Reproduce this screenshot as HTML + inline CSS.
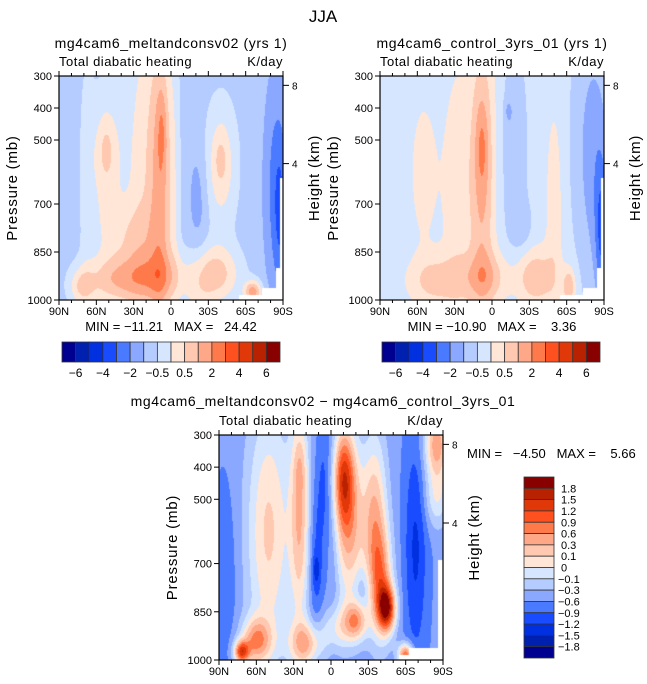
<!DOCTYPE html>
<html><head><meta charset="utf-8">
<style>
body{margin:0;background:#fff;}
#root{position:relative;width:647px;height:684px;overflow:hidden;font-family:"Liberation Sans",sans-serif;}
canvas{position:absolute;}
svg{position:absolute;left:0;top:0;}
text{font-family:"Liberation Sans",sans-serif;fill:#000;white-space:pre;}
</style></head>
<body>
<div id="root">
<canvas id="c1" width="224" height="224" style="left:59px;top:76px"></canvas>
<canvas id="c2" width="224" height="224" style="left:380px;top:76px"></canvas>
<canvas id="c3" width="224" height="225" style="left:219px;top:435px"></canvas>
<svg id="ov" width="647" height="684">
<text x="323" y="22" font-size="17" text-anchor="middle">JJA</text>
</svg>
</div>
<script>
// ---- data ----
const colors=["#000090","#0020b0","#0030e0","#1a4cff","#4a7aff","#8aa8ff","#b4ccff","#d6e6ff","#ffe6d6","#ffc8b0","#ffa888","#ff7a4a","#ff5020","#e03808","#b82200","#880000"];
const topLabels=["-6","-4","-2","-0.5","0.5","2","4","6"];
const diffLabels=["1.8","1.5","1.2","0.9","0.6","0.3","0.1","0","-0.1","-0.3","-0.6","-0.9","-1.2","-1.5","-1.8"];
const latTicks=["90N","60N","30N","0","30S","60S","90S"];
const presTicks=[300,400,500,700,850,1000];
const heightTicks=[8,4];
// panel 1 blobs (lat, pressure, lat width, pressure width, amplitude in colour steps)
const p1Bg=-1.5;
const p1Lat=[68,52,52,22,8,7,-3,-22,-40,-40,-85,-88,45,10,-35,-66,72,35,-22];
const p1Pres=[550,560,530,600,620,470,600,680,580,560,650,750,940,930,920,975,960,800,1000];
const p1WLat=[6,13,5,15,9,4,5,8,13,5,10,5,25,25,20,7,10,25,12];
const p1WPres=[400,220,70,600,500,130,500,180,200,70,350,220,80,80,90,35,60,110,60];
const p1Amp=[0.7,2.2,0.8,2.0,3.2,1.2,0.8,-1.0,2.2,0.8,-2.0,-1.2,2.9,2.1,3.0,4.0,2.0,1.5,0.8];
// panel 2
const p2Bg=-0.6;
const p2Lat=[8,8,28,55,-18,-25,-13,-50,-85,-88,45,5,-35,-62,-75];
const p2Pres=[600,520,650,600,550,770,410,700,600,800,940,930,930,960,500];
const p2WLat=[10,5,12,12,10,7,3,7,12,5,22,20,16,5,14];
const p2WPres=[450,130,400,260,350,70,35,320,400,220,80,80,90,60,400];
const p2Amp=[2.8,1.2,1.2,1.0,-1.2,-0.8,-1.0,1.2,-1.5,-2.5,2.0,2.0,2.4,2.5,-0.9];
// panel 3 (difference)
const p3Bg=-2.8;
const p3Lat=[85,50,25,25,12,12,5,-10,-15,-35,-45,-40,60,72,20,-20,-60,-25,-68,-85,-85,-2,-5];
const p3Pres=[750,600,550,400,700,720,450,430,600,550,840,760,940,975,950,880,985,780,650,330,500,550,900];
const p3WLat=[10,18,8,5,6,3,6,9,12,10,7,9,12,6,14,9,6,7,9,10,10,5,12];
const p3WPres=[300,400,350,90,250,50,200,160,260,260,70,170,70,35,70,60,35,70,350,110,90,400,70];
const p3Amp=[-1.0,4.0,4.5,1.0,-1.6,-1.5,-1.6,6.5,4.5,4.5,8.0,5.0,5.0,7.0,4.5,4.5,7.0,-1.2,-2.4,5.5,2.5,-0.8,2.5];
// ---- axes functions ----
const W=224;
function xOf(lat){return (90-lat)/180*W;}
function latOf(px){return 90-px/W*180;}
function presOf(py,h){return 300+py/h*700;}
function yOf(p,h){return (p-300)/700*h;}
function field(lat,p,bg,L,P,WL,WP,A){
  let v=bg;
  for(let i=0;i<L.length;i++){const a=(lat-L[i])/WL[i],b=(p-P[i])/WP[i];v+=A[i]*Math.exp(-(a*a+b*b));}
  return v;
}
function masked(lat,p,k){
  if(k===3){return (lat<-55&&p>985)||(lat<-63&&p>962)||(lat<-86&&p>690);}
  return (lat<-55&&p>985)||(lat<-73&&p>962)||(lat<-84&&p>900)||(lat<-87.5&&p>620);
}
function draw(id,k,bg,L,P,WL,WP,A){
  const c=document.getElementById(id),ctx=c.getContext('2d'),h=c.height;
  for(let y=0;y<h;y++)for(let x=0;x<W;x++){
    const lat=latOf(x+0.5),p=presOf(y+0.5,h);
    if(masked(lat,p,k)){ctx.fillStyle='#fff';}
    else{let v=field(lat,p,bg,L,P,WL,WP,A);let i=Math.floor(v)+8;i=Math.max(0,Math.min(15,i));ctx.fillStyle=colors[i];}
    ctx.fillRect(x,y,1,1);
  }
}
draw('c1',1,p1Bg,p1Lat,p1Pres,p1WLat,p1WPres,p1Amp);
draw('c2',2,p2Bg,p2Lat,p2Pres,p2WLat,p2WPres,p2Amp);
draw('c3',3,p3Bg,p3Lat,p3Pres,p3WLat,p3WPres,p3Amp);
// ---- overlay ----
const NS='http://www.w3.org/2000/svg',ov=document.getElementById('ov');
function el(tag,attrs,txt){const e=document.createElementNS(NS,tag);for(const k in attrs)e.setAttribute(k,attrs[k]);if(txt!==undefined)e.textContent=txt;ov.appendChild(e);return e;}
function panel(x0,y0,h,title,tx,ty,minmax,mmx,mmy,mmAnchor,name){
  let e;
  e=el('text',{x:tx,y:ty,'font-size':14,'text-anchor':'middle','letter-spacing':0.6},title);
  
  
  e=el('text',{x:x0,y:y0-10,'font-size':13,'letter-spacing':0.5},'Total diabatic heating');
  
  
  e=el('text',{x:x0+W,y:y0-10,'font-size':13,'text-anchor':'end','letter-spacing':0.5},'K/day');
  
  
  e=el('rect',{x:x0,y:y0,width:W,height:h,fill:'none',stroke:'#000','stroke-width':1.2});
  
  
  for(let lat=90;lat>=-90;lat-=10){
    const x=x0+xOf(lat),major=lat%30===0,len=major?5:3;
    e=el('line',{x1:x,x2:x,y1:y0,y2:y0-len,stroke:'#000'});
    
    
    e=el('line',{x1:x,x2:x,y1:y0+h,y2:y0+h+len,stroke:'#000'});
    
    
  }
  latTicks.forEach((t,i)=>{
    e=el('text',{x:x0+i*W/6,y:y0+h+15,'font-size':11,'text-anchor':'middle'},t);
    
    
  });
  presTicks.forEach(p=>{
    const y=y0+yOf(p,h);
    e=el('line',{x1:x0,x2:x0-5,y1:y,y2:y,stroke:'#000'});
    
    
    e=el('text',{x:x0-7,y:y+4,'font-size':11,'text-anchor':'end'},String(p));
    
    
  });
  heightTicks.forEach(z=>{
    const p=1000*Math.exp(-z/7.2),y=y0+yOf(p,h);
    e=el('line',{x1:x0+W,x2:x0+W+6,y1:y,y2:y,stroke:'#000'});
    
    
    e=el('text',{x:x0+W+9,y:y+4,'font-size':10},String(z));
    
    
  });
  e=el('text',{x:0,y:0,'font-size':15,'text-anchor':'middle','letter-spacing':0.8,transform:`translate(${x0-42},${y0+h/2}) rotate(-90)`},'Pressure (mb)');
  
  
  e=el('text',{x:0,y:0,'font-size':15,'text-anchor':'middle','letter-spacing':0.8,transform:`translate(${x0+W+36},${y0+h/2-10}) rotate(-90)`},'Height (km)');
  
  
  e=el('text',{x:mmx,y:mmy,'font-size':13,'text-anchor':mmAnchor},minmax);
  
  
}
panel(59,76,224,'mg4cam6_meltandconsv02 (yrs 1)',171,48,'MIN = \u221211.21   MAX =   24.42',171,331,'middle','panel-1');
panel(380,76,224,'mg4cam6_control_3yrs_01 (yrs 1)',492,48,'MIN = \u221210.90   MAX =    3.36',492,331,'middle','panel-2');
panel(219,435,225,'mg4cam6_meltandconsv02 \u2212 mg4cam6_control_3yrs_01',323,406,'MIN =   \u22124.50   MAX =    5.66',467,458,'start','panel-diff');
function hbar(x0,name){
  const bw=218/16;let e;
  colors.forEach((c,i)=>{
    e=el('rect',{x:x0+i*bw,y:342,width:bw,height:20,fill:c,stroke:'#333','stroke-width':0.8});
    
    
  });
  topLabels.forEach((t,i)=>{
    e=el('text',{x:x0+(2*i+1)*bw,y:377,'font-size':12,'text-anchor':'middle'},t.replace('-','\u2212'));
    
    
  });
}
hbar(62,'colorbar-1');hbar(382,'colorbar-2');
(function(){
  const bh=181/16;let e;
  colors.slice().reverse().forEach((c,i)=>{
    e=el('rect',{x:524,y:477+i*bh,width:30,height:bh,fill:c,stroke:'#333','stroke-width':0.8});
    
    
  });
  diffLabels.forEach((t,i)=>{
    const neg=t[0]==='-';
    e=el('text',{x:neg?558:561,y:477+(i+1)*bh+4,'font-size':11},t.replace('-','\u2212'));
    
    
  });
})();
</script>
</body></html>
